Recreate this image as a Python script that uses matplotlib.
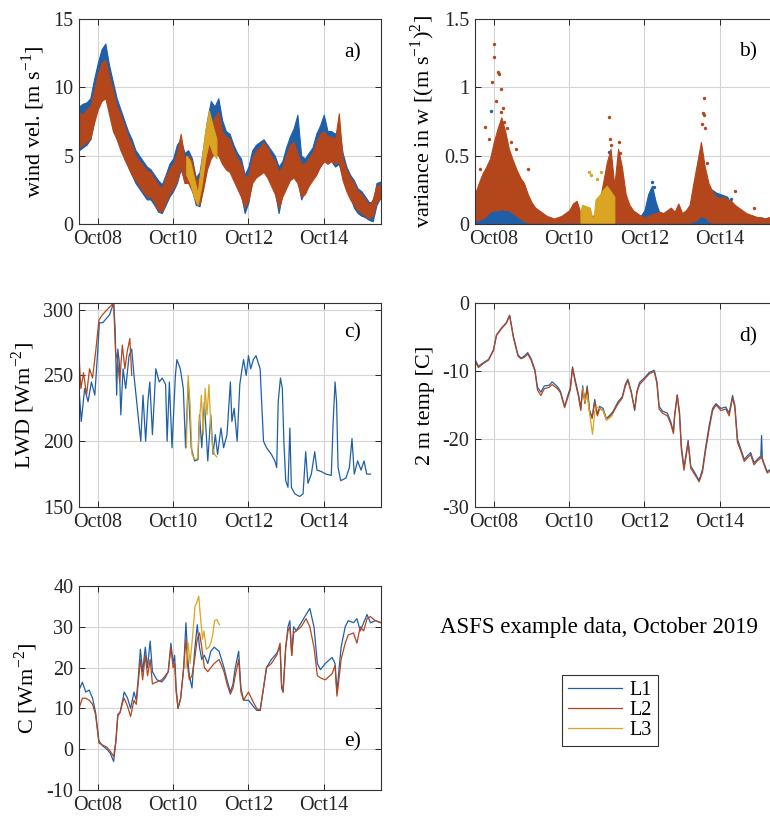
import numpy as np
import pandas as pd
import matplotlib
matplotlib.use('Agg')
import matplotlib.pyplot as plt
import matplotlib.dates as mdates
from matplotlib.ticker import FormatStrFormatter

plt.rcParams['font.family'] = 'Liberation Serif'
plt.rcParams['mathtext.fontset'] = 'custom'
plt.rcParams['mathtext.rm'] = 'Liberation Serif'
plt.rcParams['axes.unicode_minus'] = False

C1 = '#1f5fa8'   # L1
C2 = '#b4461c'   # L2
C3 = '#d9a522'   # L3

# ---- a) wind speed: dense 20 Hz-ish data, kept as low/high envelopes on a 0.1 day grid
a_t = np.linspace(7.5, 15.5, 81)
a_l1_hi = [8.6, 8.8, 8.9, 9.2, 10.6, 11.8, 12.8, 13.2, 11.6, 10.4,
           9.2, 8.4, 7.6, 6.8, 6.2, 5.4, 5.0, 4.6, 4.2, 4.0,
           3.6, 3.2, 2.9, 3.6, 4.4, 4.8, 5.8, 6.2, 5.2, 5.4,
           4.8, 3.4, 3.8, 5.6, 7.6, 9.0, 8.6, 9.2, 7.6, 6.8,
           6.6, 5.8, 5.2, 4.8, 3.6, 4.2, 5.4, 5.8, 6.0, 6.2,
           5.8, 5.4, 5.0, 4.2, 4.6, 5.6, 6.4, 7.0, 8.0, 5.0,
           4.8, 5.2, 5.6, 6.6, 7.2, 8.0, 6.8, 6.8, 6.6, 7.0,
           5.2, 4.2, 3.6, 3.2, 2.6, 2.4, 2.0, 1.6, 1.6, 3.0,
           3.1]
a_l1_lo = [5.4, 5.6, 5.8, 6.2, 7.6, 8.6, 9.4, 9.6, 8.4, 7.0,
           6.4, 5.6, 4.8, 4.2, 3.6, 3.0, 2.6, 2.2, 1.8, 1.8,
           1.4, 0.9, 0.8, 1.4, 2.0, 2.4, 3.0, 4.0, 3.2, 3.2,
           2.6, 1.4, 1.3, 2.8, 4.2, 5.0, 5.4, 5.2, 4.6, 4.2,
           4.0, 3.4, 2.8, 2.2, 0.8, 1.6, 3.2, 3.6, 3.8, 4.0,
           3.6, 3.0, 2.4, 0.8, 2.2, 2.8, 3.4, 3.8, 3.4, 1.8,
           2.4, 3.0, 3.4, 3.8, 4.2, 4.6, 4.6, 4.6, 4.2, 4.4,
           3.4, 2.6, 2.0, 1.2, 0.8, 0.6, 0.5, 0.3, 0.2, 1.4,
           1.9]
a_l2_hi = [8.2, 8.0, 8.4, 8.6, 9.8, 11.0, 11.8, 12.0, 10.8, 9.8,
           8.6, 8.0, 7.2, 6.4, 5.8, 5.0, 4.6, 4.3, 3.9, 3.8,
           3.3, 2.9, 2.6, 3.4, 4.0, 4.4, 5.2, 6.6, 4.8, 5.0,
           4.6, 3.2, 3.4, 5.0, 6.4, 7.0, 7.8, 8.2, 6.8, 6.4,
           6.2, 5.4, 4.8, 4.4, 3.4, 3.6, 4.8, 5.4, 5.6, 6.0,
           5.6, 5.0, 4.6, 3.8, 4.2, 5.0, 5.8, 6.0, 5.2, 4.4,
           4.4, 4.8, 5.2, 6.0, 6.6, 6.8, 6.4, 6.4, 6.2, 8.1,
           4.8, 4.0, 3.4, 3.0, 2.4, 2.2, 1.8, 1.4, 1.8, 2.8,
           2.9]
a_l2_lo = [5.6, 5.8, 6.0, 6.2, 7.4, 8.4, 9.0, 9.2, 8.0, 6.8,
           6.2, 5.4, 4.8, 4.2, 3.6, 3.2, 2.8, 2.4, 2.0, 2.0,
           1.6, 1.0, 0.9, 1.6, 2.2, 2.6, 3.2, 4.2, 3.0, 3.0,
           2.4, 1.6, 1.4, 2.6, 4.0, 4.8, 5.2, 5.0, 4.4, 4.0,
           3.8, 3.2, 2.6, 2.0, 1.2, 1.8, 3.0, 3.4, 3.6, 3.8,
           3.4, 2.8, 2.2, 1.2, 2.0, 2.6, 3.2, 3.4, 3.0, 2.0,
           2.2, 2.8, 3.2, 3.6, 4.2, 4.6, 4.4, 4.6, 4.4, 4.6,
           3.2, 2.4, 1.8, 1.4, 1.0, 0.8, 0.6, 0.4, 0.6, 1.6,
           1.9]
a_l3_t = [10.35, 10.45, 10.55, 10.65, 10.75, 10.85, 10.95, 11.05, 11.15]
a_l3_hi = [5.0, 4.6, 3.4, 2.2, 4.6, 6.8, 8.3, 7.2, 6.2]
a_l3_lo = [3.6, 3.0, 2.0, 1.4, 2.8, 4.8, 6.0, 5.2, 4.8]

# ---- b) variance in w
b_l1_hi = [0.12, 0.16, 0.20, 0.25, 0.30, 0.36, 0.40, 0.42, 0.38, 0.32,
           0.26, 0.22, 0.18, 0.15, 0.12, 0.09, 0.07, 0.06, 0.05, 0.04,
           0.03, 0.03, 0.04, 0.05, 0.07, 0.09, 0.12, 0.12, 0.07, 0.06,
           0.05, 0.04, 0.06, 0.10, 0.20, 0.30, 0.35, 0.20, 0.30, 0.24,
           0.14, 0.10, 0.08, 0.07, 0.06, 0.10, 0.22, 0.28, 0.16, 0.08,
           0.07, 0.08, 0.09, 0.07, 0.10, 0.07, 0.08, 0.10, 0.18, 0.28,
           0.35, 0.26, 0.22, 0.25, 0.23, 0.22, 0.21, 0.20, 0.14, 0.10,
           0.08, 0.07, 0.06, 0.05, 0.05, 0.04, 0.04, 0.04, 0.04, 0.04,
           0.03]
b_l2_hi = [0.22, 0.30, 0.37, 0.42, 0.48, 0.60, 0.70, 0.78, 0.68, 0.55,
           0.47, 0.40, 0.34, 0.30, 0.22, 0.16, 0.12, 0.10, 0.08, 0.06,
           0.05, 0.04, 0.05, 0.06, 0.08, 0.10, 0.15, 0.17, 0.08, 0.07,
           0.06, 0.05, 0.08, 0.16, 0.30, 0.45, 0.55, 0.28, 0.55, 0.42,
           0.22, 0.14, 0.10, 0.08, 0.06, 0.05, 0.06, 0.07, 0.08, 0.09,
           0.08, 0.10, 0.12, 0.09, 0.15, 0.08, 0.10, 0.14, 0.30, 0.45,
           0.60, 0.42, 0.30, 0.24, 0.20, 0.19, 0.20, 0.18, 0.17, 0.14,
           0.12, 0.10, 0.08, 0.07, 0.06, 0.05, 0.05, 0.04, 0.05, 0.05,
           0.04]
b_l2_lo = [0.02, 0.03, 0.04, 0.06, 0.09, 0.10, 0.10, 0.11, 0.10, 0.10,
           0.08, 0.06, 0.04, 0.02, 0.01, 0.01, 0.01, 0.01, 0.01, 0.01,
           0.01, 0.01, 0.01, 0.01, 0.01, 0.01, 0.01, 0.01, 0.01, 0.01,
           0.01, 0.01, 0.01, 0.01, 0.01, 0.01, 0.01, 0.01, 0.01, 0.01,
           0.01, 0.01, 0.01, 0.01, 0.01, 0.01, 0.01, 0.01, 0.01, 0.01,
           0.01, 0.01, 0.01, 0.01, 0.01, 0.01, 0.01, 0.01, 0.02, 0.03,
           0.06, 0.05, 0.02, 0.01, 0.01, 0.01, 0.01, 0.01, 0.01, 0.01,
           0.01, 0.01, 0.01, 0.01, 0.01, 0.01, 0.01, 0.01, 0.01, 0.01,
           0.01]
b_l3_t = [10.30, 10.35, 10.45, 10.55, 10.60, 10.65, 10.70, 10.80, 10.90, 11.00, 11.10, 11.20]
b_l3_hi = [0.10, 0.14, 0.13, 0.12, 0.06, 0.04, 0.18, 0.21, 0.25, 0.28, 0.24, 0.20]
# isolated high samples
b_l1_pt_t = [7.92, 8.10, 8.30, 11.05, 12.20, 12.25, 13.85, 13.95, 14.10, 14.30, 15.40]
b_l1_pt_v = [0.83, 0.62, 0.58, 0.53, 0.31, 0.27, 0.23, 0.21, 0.20, 0.18, 0.10]
b_l2_pt_t = [7.62, 7.77, 7.86, 7.95, 8.01, 8.01, 8.05, 8.12, 8.15, 8.18, 8.20, 8.24, 8.28,
             8.35, 8.45, 8.60, 8.90, 11.06, 11.08, 11.10, 11.32, 11.35, 13.52, 13.55,
             13.57, 13.58, 13.60, 13.65, 14.40, 14.90]
b_l2_pt_v = [0.40, 0.71, 0.62, 1.04, 1.32, 1.22, 0.90, 1.11, 1.10, 0.99, 0.82, 0.85, 0.75,
             0.70, 0.60, 0.55, 0.40, 0.78, 0.62, 0.58, 0.60, 0.52, 0.73, 0.81,
             0.92, 0.80, 0.70, 0.45, 0.24, 0.12]
b_l3_pt_t = [10.52, 10.58, 10.75, 10.85]
b_l3_pt_v = [0.38, 0.36, 0.33, 0.38]

# ---- c) LWD
c_t1 = [7.50, 7.56, 7.65, 7.74, 7.83, 7.92, 8.00, 8.04, 8.13, 8.22,
        8.31, 8.42, 8.46, 8.50, 8.53, 8.57, 8.61, 8.67, 8.74, 8.83,
        8.90, 8.96, 9.05, 9.14, 9.20, 9.27, 9.33, 9.38, 9.45, 9.54,
        9.63, 9.71, 9.80, 9.84, 9.90, 9.97, 10.06, 10.10, 10.19, 10.27,
        10.33, 10.40, 10.48, 10.57, 10.66, 10.70, 10.76, 10.83, 10.92, 11.00,
        11.06, 11.12, 11.18, 11.27, 11.34, 11.43, 11.52, 11.56, 11.62, 11.70,
        11.77, 11.83, 11.87, 11.94, 12.00, 12.06, 12.13, 12.20, 12.31, 12.35,
        12.40, 12.48, 12.61, 12.70, 12.75, 12.79, 12.85, 12.90, 12.94, 12.99,
        13.05, 13.10, 13.14, 13.23, 13.36, 13.45, 13.52, 13.58, 13.67, 13.76,
        13.82, 13.93, 14.06, 14.20, 14.25, 14.30, 14.34, 14.38, 14.45, 14.59,
        14.68, 14.75, 14.81, 14.90, 14.99, 15.07, 15.14, 15.24]
c_v1 = [240, 215, 240, 230, 245, 235, 270, 290, 290, 293,
        296, 305, 285, 235, 270, 260, 220, 255, 240, 265,
        270, 250, 225, 200, 235, 200, 230, 245, 205, 255,
        245, 248, 243, 200, 245, 195, 250, 262, 255, 240,
        195, 245, 195, 185, 186, 220, 195, 230, 185, 220,
        190, 205, 190, 210, 195, 205, 245, 215, 225, 200,
        243, 255, 262, 250, 265, 255, 262, 265, 255, 230,
        200, 195, 190, 185, 180, 230, 248, 240, 200, 170,
        165, 210, 165, 160, 158, 160, 192, 168, 175, 192,
        178, 177, 175, 174, 215, 245, 230, 180, 170, 172,
        180, 202, 175, 185, 178, 185, 175, 175]
c_t2 = [7.50, 7.55, 7.62, 7.70, 7.78, 7.86, 7.95, 8.03, 8.12, 8.25,
        8.35, 8.42, 8.47, 8.52, 8.58, 8.65, 8.72, 8.78, 8.85, 8.90]
c_v2 = [265, 240, 252, 235, 255, 248, 270, 292, 296, 300,
        303, 305, 268, 262, 245, 273, 255, 268, 278, 250]
c_t3 = [10.35, 10.40, 10.45, 10.50, 10.58, 10.65, 10.70, 10.75,
        10.80, 10.85, 10.90, 10.95, 11.00, 11.05, 11.10, 11.16]
c_v3 = [195, 250, 228, 190, 186, 187, 215, 235,
        205, 240, 220, 243, 212, 195, 190, 188]

# ---- d) 2 m temperature
d_t = [7.50, 7.59, 7.72, 7.86, 7.99, 8.07, 8.20, 8.33, 8.42, 8.52,
       8.64, 8.72, 8.81, 8.90, 8.99, 9.09, 9.16, 9.25, 9.34, 9.47,
       9.55, 9.69, 9.77, 9.88, 9.97, 10.03, 10.09, 10.16, 10.25, 10.31,
       10.36, 10.42, 10.48, 10.54, 10.61, 10.68, 10.75, 10.81, 10.90, 10.99,
       11.08, 11.16, 11.30, 11.41, 11.49, 11.56, 11.65, 11.74, 11.80, 11.87,
       12.00, 12.13, 12.26, 12.33, 12.39, 12.48, 12.61, 12.70, 12.77, 12.80,
       12.87, 12.93, 12.98, 13.05, 13.11, 13.16, 13.23, 13.32, 13.40, 13.45,
       13.54, 13.63, 13.72, 13.81, 13.90, 14.03, 14.16, 14.25, 14.34, 14.40,
       14.47, 14.56, 14.65, 14.73, 14.82, 14.91, 15.00, 15.09, 15.11, 15.13,
       15.17, 15.26, 15.45, 15.52]
d_v1 = [-8.3, -9.3, -8.8, -8.3, -6.9, -4.7, -3.7, -2.9, -1.8, -4.9,
        -7.6, -8.1, -7.8, -7.3, -8.2, -9.8, -12.4, -13.1, -12.2, -12.1,
        -11.6, -12.3, -13.0, -15.2, -13.5, -12.5, -9.4, -11.3, -13.5, -15.5,
        -12.2, -14.5, -12.2, -15.7, -16.8, -14.2, -16.4, -15.2, -15.5, -17.0,
        -16.5, -16.0, -14.5, -13.8, -12.0, -11.2, -13.0, -15.8, -13.0, -11.7,
        -11.0, -10.2, -9.9, -11.5, -15.2, -15.9, -16.2, -17.5, -19.0, -16.5,
        -13.5, -16.0, -21.0, -24.2, -22.0, -20.2, -24.0, -24.8, -25.6, -26.1,
        -24.5, -21.0, -18.0, -15.5, -14.8, -15.5, -15.3, -16.2, -13.6, -15.0,
        -20.0, -21.5, -23.0, -22.5, -22.0, -23.5, -23.0, -22.5, -19.5, -22.8,
        -23.5, -24.8, -24.0, -24.8]
d_v2 = [-8.6, -9.5, -8.9, -8.4, -7.0, -4.8, -3.8, -3.0, -1.9, -5.1,
        -7.8, -8.2, -8.0, -7.5, -8.4, -10.0, -12.8, -13.6, -12.6, -12.4,
        -12.0, -12.6, -13.2, -15.4, -13.8, -12.8, -9.6, -11.6, -13.8, -15.8,
        -12.6, -14.8, -12.6, -16.0, -17.0, -14.6, -16.6, -15.5, -15.8, -17.2,
        -16.7, -16.2, -14.8, -14.0, -12.3, -11.4, -13.2, -15.6, -13.2, -12.0,
        -11.2, -10.4, -10.1, -11.8, -15.6, -16.2, -16.6, -17.8, -19.2, -16.8,
        -13.6, -16.4, -21.6, -24.6, -22.4, -20.6, -24.3, -25.1, -25.8, -26.3,
        -24.9, -21.5, -18.5, -15.8, -15.0, -15.8, -15.6, -16.6, -13.9, -15.4,
        -20.5, -21.8, -23.3, -22.8, -22.3, -23.8, -23.2, -22.8, -22.6, -23.0,
        -23.7, -25.0, -24.3, -25.0]
d_t3 = [10.36, 10.42, 10.48, 10.55, 10.62, 10.68, 10.72, 10.80, 10.90, 11.00, 11.10, 11.15]
d_v3 = [-12.5, -14.5, -13.5, -16.5, -19.3, -16.0, -15.2, -15.5, -15.8, -17.2, -16.8, -16.5]

# ---- e) C
e_t = [7.50, 7.59, 7.68, 7.77, 7.86, 7.94, 8.03, 8.13, 8.24, 8.33,
       8.42, 8.48, 8.53, 8.59, 8.66, 8.70, 8.79, 8.87, 8.96, 9.02,
       9.07, 9.13, 9.19, 9.26, 9.32, 9.39, 9.45, 9.57, 9.70, 9.79,
       9.87, 9.94, 10.00, 10.04, 10.08, 10.13, 10.20, 10.28, 10.34, 10.39,
       10.43, 10.50, 10.57, 10.64, 10.70, 10.76, 10.83, 10.92, 11.00, 11.09,
       11.22, 11.35, 11.43, 11.52, 11.59, 11.65, 11.74, 11.80, 11.87, 12.00,
       12.13, 12.22, 12.31, 12.40, 12.48, 12.61, 12.75, 12.84, 12.88, 12.92,
       12.99, 13.05, 13.10, 13.15, 13.20, 13.27, 13.40, 13.53, 13.63, 13.74,
       13.83, 13.91, 14.04, 14.22, 14.30, 14.35, 14.39, 14.46, 14.57, 14.65,
       14.79, 14.88, 14.97, 15.06, 15.15, 15.24, 15.37, 15.52]
e_v1 = [14.5, 16.4, 14.0, 14.5, 12.5, 9.0, 2.0, 0.8, 0.0, -1.0,
        -3.0, 2.0, 8.5, 9.0, 12.0, 14.0, 12.5, 10.0, 14.0, 12.0,
        17.0, 24.5, 19.0, 25.0, 20.0, 26.5, 19.0, 17.0, 16.5, 17.5,
        19.0, 26.0, 21.0, 23.0, 15.0, 10.0, 12.5, 20.0, 31.0, 22.0,
        18.0, 15.0, 24.0, 30.5, 25.0, 22.0, 23.0, 21.0, 24.0, 25.0,
        24.0, 20.0, 17.0, 14.0, 16.0, 20.0, 24.0, 15.0, 12.0, 12.0,
        10.5, 9.5, 9.5, 15.0, 20.0, 22.0, 23.5, 25.0, 15.0, 14.0,
        25.0, 30.0, 31.5, 23.0, 30.0, 29.0, 31.0, 33.0, 34.5, 30.0,
        21.0, 19.5, 21.0, 22.5, 21.0, 14.0, 18.0, 25.0, 30.0, 31.5,
        31.0, 32.0, 29.0, 31.0, 33.0, 31.0, 31.5, 31.0]
e_v2 = [10.0, 12.5, 12.5, 12.0, 11.0, 8.5, 1.5, 1.0, 0.5, -0.5,
        -1.8, 2.0, 8.0, 9.0, 11.5, 12.5, 10.5, 8.0, 12.0, 11.0,
        16.0, 22.0, 17.0, 23.0, 18.0, 22.0, 16.0, 16.5, 17.0, 18.0,
        19.0, 25.0, 20.0, 21.0, 14.0, 10.0, 12.5, 20.0, 27.0, 20.0,
        17.0, 18.0, 22.0, 27.0, 28.5, 25.0, 20.0, 19.0, 20.0, 21.0,
        22.0, 19.0, 16.0, 13.5, 15.0, 18.0, 22.0, 14.0, 12.0, 14.0,
        11.5, 10.0, 9.5, 15.0, 20.0, 21.0, 23.0, 26.0, 16.0, 14.0,
        25.0, 29.0, 30.0, 23.0, 28.5, 29.0, 30.0, 32.0, 30.0, 25.0,
        18.0, 17.5, 17.0, 18.5, 20.5, 13.0, 16.0, 22.0, 26.0, 28.0,
        28.5, 26.0, 30.0, 29.0, 32.0, 32.5, 31.5, 31.0]
e_t3 = [10.34, 10.40, 10.45, 10.52, 10.58, 10.63, 10.68, 10.72, 10.78,
        10.82, 10.88, 10.95, 11.00, 11.05, 11.10, 11.16, 11.23]
e_v3 = [20, 26, 21, 28, 35, 36, 37.5, 33, 27,
        29, 24.5, 25, 26, 28, 31.5, 31.8, 30.5]


def dates(days):
    # day of October 2019 (fractional) -> timestamps
    return pd.Timestamp('2019-10-01') + pd.to_timedelta(np.asarray(days, dtype=float) - 1, unit='D')


def style(ax, ylim, yticks, fmt, ylabel, tag, tag_y, label_x):
    ax.set_xlim(dates([7.5, 15.52]))
    ax.set_ylim(*ylim)
    ax.set_yticks(yticks)
    ax.yaxis.set_major_formatter(FormatStrFormatter(fmt))
    ax.xaxis.set_major_locator(mdates.DayLocator(bymonthday=[8, 10, 12, 14]))
    ax.xaxis.set_major_formatter(mdates.DateFormatter('%b%d'))
    ax.grid(True, color='#d4d4d4', lw=0.8)
    ax.set_axisbelow(True)
    ax.tick_params(direction='in', top=True, right=True, length=4, width=0.7,
                   labelsize=14.5, colors='#262626', pad=4)
    for s in ax.spines.values():
        s.set_color('#333333')
        s.set_linewidth(0.8)
    ax.set_ylabel(ylabel, fontsize=16)
    ax.yaxis.set_label_coords(label_x, 0.5)
    ax.text(0.905, tag_y, tag, transform=ax.transAxes, fontsize=15.5,
            ha='center', va='center')


fig = plt.figure(figsize=(7.7, 8.16), dpi=100)
W, H = 770, 816
def box(x0, y0, x1, y1):
    return [x0 / W, 1 - y1 / H, (x1 - x0) / W, (y1 - y0) / H]

ax_a = fig.add_axes(box(79, 19, 381, 224))
ax_b = fig.add_axes(box(475, 19, 777, 224))
ax_c = fig.add_axes(box(79, 303, 381, 507))
ax_d = fig.add_axes(box(475, 303, 777, 507))
ax_e = fig.add_axes(box(79, 586, 381, 790))

# a)
ta = dates(a_t)
ax_a.fill_between(ta, a_l1_lo, a_l1_hi, color=C1, lw=0.8)
ax_a.fill_between(ta, a_l2_lo, a_l2_hi, color=C2, lw=0.8)
ax_a.fill_between(dates(a_l3_t), a_l3_lo, a_l3_hi, color=C3, lw=0.8)
style(ax_a, (0, 15), [0, 5, 10, 15], '%g', 'wind vel. [m s$^{-1}$]', 'a)', 0.834, -0.105)

# b)
ax_b.fill_between(ta, 0, b_l1_hi, color=C1, lw=0.8)
ax_b.scatter(dates(b_l1_pt_t), b_l1_pt_v, s=6, color=C1, lw=0)
ax_b.fill_between(ta, b_l2_lo, b_l2_hi, color=C2, lw=0.8)
ax_b.scatter(dates(b_l2_pt_t), b_l2_pt_v, s=6, color=C2, lw=0)
ax_b.fill_between(dates(b_l3_t), 0.01, b_l3_hi, color=C3, lw=0.8)
ax_b.scatter(dates(b_l3_pt_t), b_l3_pt_v, s=6, color=C3, lw=0)
style(ax_b, (0, 1.5), [0, 0.5, 1, 1.5], '%g', 'variance in w [(m s$^{-1}$)$^{2}$]', 'b)', 0.84, -0.127)

# c)
ax_c.plot(dates(c_t1), c_v1, color=C1, lw=0.9)
ax_c.plot(dates(c_t2), c_v2, color=C2, lw=0.9)
ax_c.plot(dates(c_t3), c_v3, color=C3, lw=0.9)
style(ax_c, (150, 305), [150, 200, 250, 300], '%g', 'LWD [Wm$^{-2}$]', 'c)', 0.853, -0.14)

# d)
ax_d.plot(dates(d_t), d_v1, color=C1, lw=0.9)
ax_d.plot(dates(d_t), d_v2, color=C2, lw=0.9)
ax_d.plot(dates(d_t3), d_v3, color=C3, lw=0.9)
style(ax_d, (-30, 0), [-30, -20, -10, 0], '%g', '2 m temp [C]', 'd)', 0.833, -0.132)

# e)
l1, = ax_e.plot(dates(e_t), e_v1, color=C1, lw=0.9)
l2, = ax_e.plot(dates(e_t), e_v2, color=C2, lw=0.9)
l3, = ax_e.plot(dates(e_t3), e_v3, color=C3, lw=0.9)
style(ax_e, (-10, 40), [-10, 0, 10, 20, 30, 40], '%g', 'C [Wm$^{-2}$]', 'e)', 0.235, -0.129)

fig.text(599 / W, 1 - 628 / H, 'ASFS example data, October 2019', fontsize=16.5,
         ha='center', va='center')

leg = fig.legend([l1, l2, l3], ['L1', 'L2', 'L3'], loc='upper left',
                 bbox_to_anchor=(562 / W, 1 - 675 / H), fontsize=14.5,
                 fancybox=False, edgecolor='#333333', framealpha=1,
                 handlelength=2.7, handletextpad=0.35, labelspacing=0.05,
                 borderpad=0.3, borderaxespad=0)
leg.get_frame().set_linewidth(0.8)

fig.savefig('out.png', dpi=100)
